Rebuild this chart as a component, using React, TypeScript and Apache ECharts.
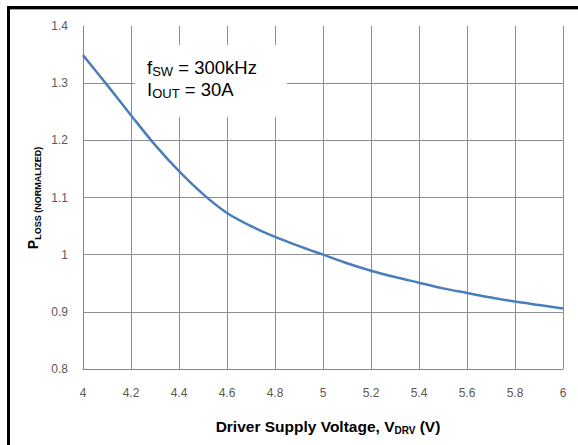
import React, { useEffect, useRef } from "react";
import * as echarts from "echarts";

const xValues = [4.0, 4.1, 4.2, 4.3, 4.4, 4.5, 4.6, 4.7, 4.8, 4.9, 5.0, 5.1, 5.2, 5.3, 5.4, 5.5, 5.6, 5.7, 5.8, 5.9, 6.0];
const pLoss = [1.349, 1.297, 1.244, 1.192, 1.146, 1.106, 1.073, 1.05, 1.031, 1.015, 1.0, 0.985, 0.972, 0.961, 0.951, 0.941, 0.933, 0.925, 0.918, 0.912, 0.906];
const annotationLines = ["f|SW| = 300kHz", "I|OUT| = 30A"];
const xTitle = ["Driver Supply Voltage, V", "DRV", " (V)"];
const yTitle = ["P", "LOSS (NORMALIZED)"];

const fmt = (v: number) => String(+v.toFixed(1));

export default function App() {
  const ref = useRef<HTMLDivElement>(null);
  useEffect(() => {
    if (!ref.current) return;
    const chart = echarts.init(ref.current, undefined, { renderer: "svg" });
    const annText = annotationLines
      .map((l) => {
        const [a, b, c] = l.split("|");
        return `{n|${a}}{s|${b}}{n|${c}}`;
      })
      .join("\n");
    chart.setOption({
      animation: false,
      backgroundColor: "#ffffff",
      grid: { left: 83, right: 15, top: 26, bottom: 76 },
      xAxis: {
        type: "value",
        min: 4,
        max: 6,
        interval: 0.2,
        axisLine: { show: true, lineStyle: { color: "#868686", width: 1 } },
        axisTick: { show: false },
        axisLabel: {
          formatter: fmt,
          margin: 18,
          color: "#595959",
          fontSize: 12,
          fontFamily: "Liberation Sans",
        },
        splitLine: { show: true, lineStyle: { color: "#8e8e8e", width: 1 } },
      },
      yAxis: {
        type: "value",
        min: 0.8,
        max: 1.4,
        interval: 0.1,
        axisLine: { show: true, lineStyle: { color: "#868686", width: 1 } },
        axisTick: { show: false },
        axisLabel: {
          formatter: fmt,
          margin: 15,
          color: "#595959",
          fontSize: 12,
          fontFamily: "Liberation Sans",
        },
        splitLine: { show: true, showMaxLine: false, lineStyle: { color: "#8e8e8e", width: 1 } },
      },
      series: [
        {
          type: "line",
          data: xValues.map((x, i) => [x, pLoss[i]]),
          showSymbol: false,
          smooth: 0.3,
          z: 3,
          lineStyle: { color: "#4a7ebb", width: 2.5 },
        },
      ],
      graphic: [
        {
          type: "rect",
          z: 1,
          shape: { x: 135, y: 45, width: 152, height: 72 },
          style: { fill: "#ffffff" },
        },
        {
          type: "text",
          z: 4,
          x: 147,
          y: 56,
          style: {
            text: annText,
            fill: "#000000",
            rich: {
              n: { fontSize: 18.5, fontFamily: "Liberation Sans", lineHeight: 22, fill: "#000" },
              s: { fontSize: 13, fontFamily: "Liberation Sans", lineHeight: 15, verticalAlign: "bottom", fill: "#000" },
            },
          },
        },
        {
          type: "text",
          z: 4,
          x: 328,
          y: 426,
          style: {
            text: `{b|${xTitle[0]}}{s|${xTitle[1]}}{b|${xTitle[2]}}`,
            align: "center",
            verticalAlign: "middle",
            rich: {
              b: { fontSize: 15.5, fontWeight: "bold", fontFamily: "Liberation Sans", lineHeight: 18, fill: "#000" },
              s: { fontSize: 10, fontWeight: "bold", fontFamily: "Liberation Sans", lineHeight: 12, verticalAlign: "bottom", fill: "#000" },
            },
          },
        },
        {
          type: "text",
          z: 4,
          x: 33,
          y: 198,
          rotation: Math.PI / 2,
          style: {
            text: `{p|${yTitle[0]}}{s|${yTitle[1]}}`,
            align: "center",
            verticalAlign: "middle",
            rich: {
              p: { fontSize: 14, fontWeight: "bold", fontFamily: "Liberation Sans", lineHeight: 18, fill: "#000" },
              s: { fontSize: 9, fontWeight: "bold", fontFamily: "Liberation Sans", lineHeight: 12, verticalAlign: "bottom", fill: "#000" },
            },
          },
        },
        {
          type: "line",
          z: 5,
          shape: { x1: 7, y1: 7.5, x2: 578, y2: 7.5 },
          style: { stroke: "#000000", lineWidth: 3 },
        },
        {
          type: "line",
          z: 5,
          shape: { x1: 10, y1: 9.5, x2: 578, y2: 9.5 },
          style: { stroke: "#a0a0a0", lineWidth: 1 },
        },
        {
          type: "line",
          z: 5,
          shape: { x1: 8.5, y1: 6, x2: 8.5, y2: 445 },
          style: { stroke: "#000000", lineWidth: 3 },
        },
      ],
    });
    return () => chart.dispose();
  }, []);
  return (
    <div
      ref={ref}
      style={{ position: "absolute", left: 0, top: 0, width: 578, height: 445, background: "#fff" }}
    />
  );
}
